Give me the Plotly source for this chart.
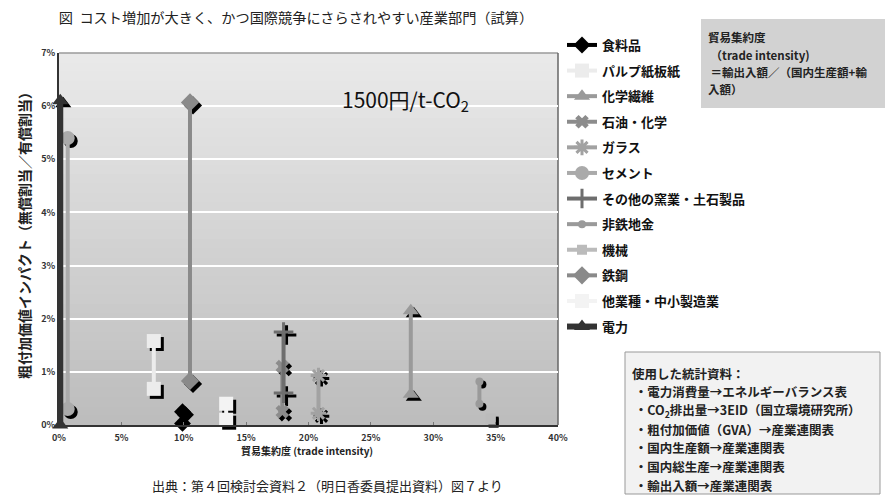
import plotly.graph_objects as go

# ---- data ----
sectors = ["食料品", "パルプ紙板紙", "化学繊維", "石油・化学", "ガラス", "セメント",
           "その他の窯業・土石製品", "非鉄地金", "機械", "鉄鋼", "他業種・中小製造業", "電力"]
trade_intensity = [0.099, 0.076, 0.282, 0.179, 0.208, 0.007,
                   0.180, 0.337, 0.346, 0.105, 0.134, 0.001]
gva_low = [0.0003, 0.0068, 0.0058, 0.0025, 0.0022, 0.0030,
           0.0060, 0.0040, 0.0010, 0.0083, 0.0010, 0.0000]
gva_high = [0.0025, 0.0158, 0.0215, 0.0110, 0.0093, 0.0540,
            0.0175, 0.0082, 0.0012, 0.0607, 0.0040, 0.0610]
x_ticks = [0, 0.05, 0.10, 0.15, 0.20, 0.25, 0.30, 0.35, 0.40]
y_ticks = [0, 0.01, 0.02, 0.03, 0.04, 0.05, 0.06, 0.07]

note_lines = ["貿易集約度", " （trade intensity)", " ＝輸出入額／（国内生産額+輸", "入額）"]
source_lines = ["使用した統計資料：", " ・電力消費量→エネルギーバランス表",
                " ・CO<sub>2</sub>排出量→3EID（国立環境研究所）", " ・粗付加価値（GVA）→産業連関表",
                " ・国内生産額→産業連関表", " ・国内総生産→産業連関表", " ・輸出入額→産業連関表"]

# ---- styles ----
colors = ["#000000", "#ececec", "#9a9a9a", "#8c8c8c", "#a2a2a2", "#aaaaaa",
          "#6e6e6e", "#9a9a9a", "#bbbbbb", "#8a8a8a", "#f3f3f3", "#333333"]
symbols = ["diamond", "square", "triangle-up", "x", "asterisk-open", "circle",
           "cross-thin-open", "circle", "square", "diamond", "square", "triangle-up"]
sizes = [13, 14, 14, 12, 13, 14, 14, 8, 10, 14, 14, 14]
widths = [4, 4, 4, 4, 4, 4, 4, 4, 4, 4, 4, 6]

FONT = "Noto Sans CJK JP"
W, H = 885, 500
L, R, T, B = 59, 558, 53, 425
pw, ph = R - L, B - T
XR = [0, 0.40]
YR = [0, 0.07]
# drop-shadow offset: 3 px right, 3 px down, expressed in data units
dx = 3 * (XR[1] - XR[0]) / pw
dy = 3 * (YR[1] - YR[0]) / ph


def px(x):
    return (x - L) / pw


def py(y):
    return (B - y) / ph


fig = go.Figure()
open_syms = {"asterisk-open", "cross-thin-open"}

# shadows first (drawn underneath)
for i, name in enumerate(sectors):
    sym = symbols[i]
    mk = dict(symbol=sym, size=sizes[i], color="#000000")
    if sym in open_syms:
        mk["line"] = dict(color="#000000", width=3)
    fig.add_trace(go.Scatter(
        x=[trade_intensity[i] + dx, trade_intensity[i] + dx],
        y=[gva_low[i] - dy, gva_high[i] - dy],
        mode="markers", marker=mk, showlegend=False, hoverinfo="skip", cliponaxis=False))

# main traces
for i, name in enumerate(sectors):
    sym = symbols[i]
    mk = dict(symbol=sym, size=sizes[i], color=colors[i])
    if sym in open_syms:
        mk["line"] = dict(color=colors[i], width=3)
    fig.add_trace(go.Scatter(
        x=[trade_intensity[i], trade_intensity[i]], y=[gva_low[i], gva_high[i]],
        mode="lines+markers", name=name, legendgroup=name,
        line=dict(color=colors[i], width=widths[i]),
        marker=mk, cliponaxis=False))

# gradient background stripes
n = 40
shapes = []
c_top = (234, 234, 234)
c_bot = (188, 188, 188)
for k in range(n):
    t = (k + 0.5) / n
    c = tuple(int(round(c_bot[j] + (c_top[j] - c_bot[j]) * t)) for j in range(3))
    shapes.append(dict(type="rect", xref="paper", yref="paper",
                       x0=0, x1=1, y0=k / n, y1=min(1, (k + 1) / n + 0.002),
                       fillcolor="rgb(%d,%d,%d)" % c, line=dict(width=0), layer="below"))
shapes.append(dict(type="line", xref="paper", yref="paper", x0=0, x1=1, y0=1, y1=1,
                   line=dict(color="#9a9a9a", width=1.5), layer="below"))
shapes.append(dict(type="line", xref="paper", yref="paper", x0=1, x1=1, y0=0, y1=1,
                   line=dict(color="#666666", width=1.5), layer="below"))
# note boxes
shapes.append(dict(type="rect", xref="paper", yref="paper",
                   x0=px(701), x1=px(900), y0=py(108), y1=py(19),
                   fillcolor="#d2d2d2", line=dict(width=0), layer="above"))
shapes.append(dict(type="rect", xref="paper", yref="paper",
                   x0=px(625), x1=px(880), y0=py(494), y1=py(352),
                   fillcolor="#f2f2f2", line=dict(color="#999999", width=1), layer="above"))

tickfont = dict(family=FONT, size=9, color="#333333", weight="bold")

fig.update_layout(
    width=W, height=H,
    margin=dict(l=L, r=W - R, t=T, b=H - B, pad=0),
    paper_bgcolor="white", plot_bgcolor="#d4d4d4",
    font=dict(family=FONT, color="#111111"),
    shapes=shapes,
    xaxis=dict(range=XR, tickvals=x_ticks, tickformat=".0%", tickfont=tickfont,
               showgrid=False, zeroline=False, showline=True, linecolor="#333333",
               linewidth=2, ticks="inside", ticklen=3, tickcolor="#777777",
               ticklabelstandoff=3),
    yaxis=dict(range=YR, tickvals=y_ticks, tickformat=".0%", tickfont=tickfont,
               showgrid=True, gridcolor="#ffffff", gridwidth=2, zeroline=False,
               showline=True, linecolor="#333333", linewidth=2, ticks=""),
    legend=dict(x=px(562), y=py(30), xanchor="left", yanchor="top",
                bgcolor="rgba(0,0,0,0)", traceorder="grouped", tracegroupgap=5.7,
                font=dict(family=FONT, size=13, color="#111111", weight="bold"),
                itemwidth=30, maxheight=1.0),
    showlegend=True,
    title=dict(text="図  コスト増加が大きく、かつ国際競争にさらされやすい産業部門（試算）",
               x=296 / W, y=1 - 18 / H, xanchor="center", yanchor="middle",
               font=dict(family=FONT, size=14.2, color="#222222")),
)

ann = []
ann.append(dict(text="1500円/t-CO<sub>2</sub>", xref="paper", yref="paper",
                x=px(405), y=py(100), xanchor="center", yanchor="middle",
                showarrow=False, font=dict(family=FONT, size=21, color="#111111")))
ann.append(dict(text="貿易集約度 (trade intensity)", xref="paper", yref="paper",
                x=px(307), y=py(450), xanchor="center", yanchor="middle",
                showarrow=False, font=dict(family=FONT, size=10, color="#222222", weight="bold")))
ann.append(dict(text="粗付加価値インパクト（無償割当／有償割当）", xref="paper", yref="paper",
                x=px(24), y=py(232), xanchor="center", yanchor="middle", textangle=-90,
                showarrow=False, font=dict(family=FONT, size=14, color="#222222", weight="bold")))
note_y = [37, 55, 72, 89]
for k, line in enumerate(note_lines):
    ann.append(dict(text=line, xref="paper", yref="paper", x=px(706), y=py(note_y[k]),
                    xanchor="left", yanchor="middle", align="left", showarrow=False,
                    font=dict(family=FONT, size=11.5, color="#222222", weight="bold")))
for k, line in enumerate(source_lines):
    ann.append(dict(text=line, xref="paper", yref="paper", x=px(630), y=py(373 + 18.7 * k),
                    xanchor="left", yanchor="middle", align="left", showarrow=False,
                    font=dict(family=FONT, size=12.5, color="#222222", weight="bold")))
ann.append(dict(text="出典：第４回検討会資料２（明日香委員提出資料）図７より",
                xref="paper", yref="paper", x=px(327), y=py(485), xanchor="center", yanchor="middle",
                showarrow=False, font=dict(family=FONT, size=13, color="#222222")))
fig.update_layout(annotations=ann)

fig.write_html("out.html")
